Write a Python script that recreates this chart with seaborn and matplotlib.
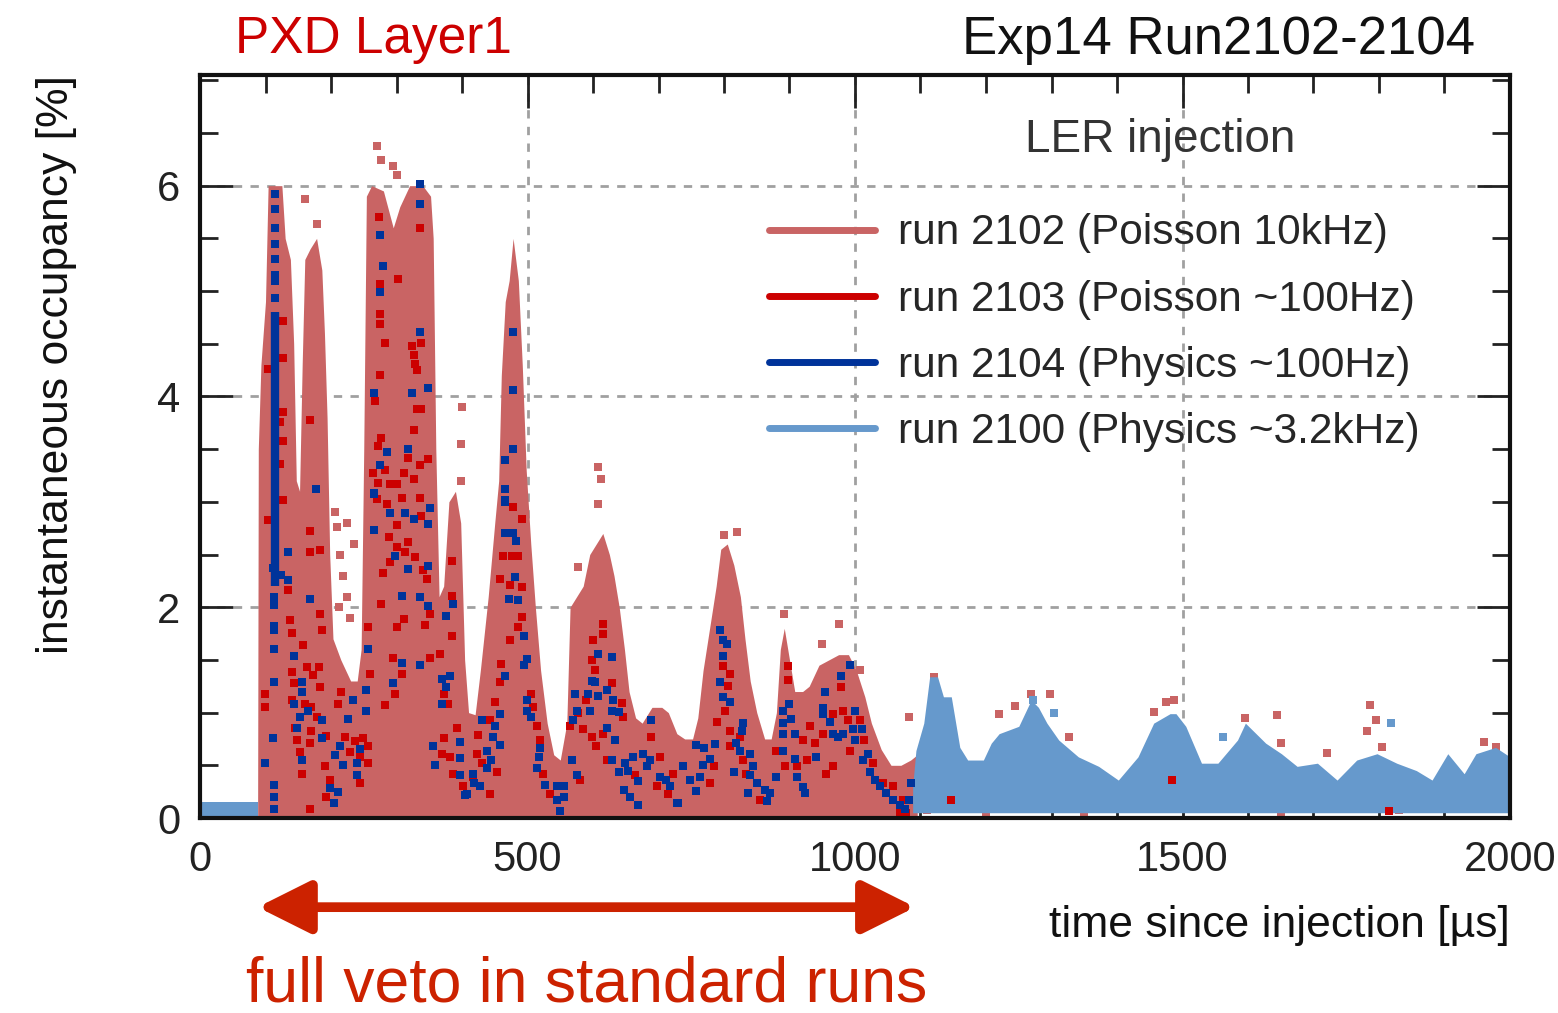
import numpy as np
import pandas as pd
import seaborn as sns
import matplotlib
matplotlib.use('Agg')
import matplotlib.pyplot as plt
from matplotlib.lines import Line2D
from matplotlib.ticker import MultipleLocator

# run 2102 (Poisson 10kHz): upper edge of the dense band
pink_x = [88, 89, 93, 100, 104, 112, 125, 130, 138, 143, 147, 152, 156, 160, 168, 178, 186, 190, 194, 198,
          203, 215, 230, 240, 246, 250, 254, 262, 280, 295, 305, 320, 340, 352, 356, 360, 365, 372, 380, 390,
          398, 404, 410, 420, 428, 440, 450, 456, 460, 466, 472, 478, 486, 492, 498, 505, 512, 520, 530, 540,
          550, 560, 565, 575, 585, 595, 605, 615, 625, 632, 640, 648, 655, 665, 675, 690, 705, 715, 728, 740,
          752, 760, 768, 778, 788, 795, 805, 815, 825, 832, 840, 850, 862, 872, 880, 886, 892, 900, 908, 915,
          920, 930, 945, 960, 975, 990, 1002, 1015, 1025, 1040, 1055, 1070, 1085, 1095]
pink_top = [0.15, 3.5, 4.3, 4.9, 6.0, 6.0, 6.0, 5.5, 5.3, 4.5, 3.2, 3.1, 4.3, 5.3, 5.4, 5.5, 5.2, 4.6, 3.8, 2.5,
            1.7, 1.5, 1.3, 1.3, 1.6, 3.5, 5.9, 6.0, 5.95, 5.6, 5.8, 6.0, 6.0, 5.9, 5.5, 3.5, 2.1, 2.2, 3.0, 3.1,
            2.8, 1.5, 1.0, 0.98, 1.4, 2.1, 2.8, 3.2, 4.2, 4.9, 5.1, 5.5, 5.1, 4.3, 3.3, 2.6, 2.0, 1.4, 0.9, 0.6,
            0.55, 0.9, 2.0, 2.1, 2.2, 2.5, 2.6, 2.7, 2.5, 2.3, 2.0, 1.6, 1.2, 0.95, 0.9, 1.05, 1.05, 1.0, 0.8, 0.75,
            0.75, 0.95, 1.4, 1.8, 2.2, 2.55, 2.6, 2.4, 2.1, 1.7, 1.3, 1.0, 0.75, 0.75, 1.0, 1.6, 1.8, 1.5, 1.2, 1.2,
            1.2, 1.25, 1.45, 1.5, 1.55, 1.55, 1.4, 1.15, 0.9, 0.65, 0.5, 0.5, 0.55, 0.6]
# run 2102 isolated points
pink_dx = [270, 276, 295, 300, 160, 178, 400, 398, 398, 608, 612, 608, 577, 800, 820, 891, 976, 949, 1083, 1008,
           209, 214, 219, 224, 229, 212, 235, 206, 225,
           1120, 1220, 1244, 1268, 1297, 1326, 1456, 1487, 1475, 1596, 1644, 1651, 1787, 1781, 1796, 1805,
           1960, 1978, 1721, 1110, 1200, 1350, 1500, 1650, 1830, 1950]
pink_dy = [6.38, 6.24, 6.19, 6.1, 5.87, 5.64, 3.9, 3.55, 3.2, 3.33, 3.22, 2.98, 2.38, 2.69, 2.71, 1.94, 1.84, 1.65, 0.96, 1.4,
           2.76, 2.5, 2.3, 2.1, 1.9, 2.0, 2.6, 2.9, 2.8,
           1.34, 0.99, 1.06, 1.18, 1.18, 0.77, 1.01, 1.12, 1.1, 0.95, 0.98, 0.71, 1.07, 0.83, 0.93, 0.67,
           0.72, 0.67, 0.62, 0.08, 0.06, 0.05, 0.1, 0.06, 0.08, 0.1]

# run 2103 (Poisson ~100Hz)
red_x = [273, 336, 303, 275, 275, 275, 127, 282, 323, 338, 326, 328, 331, 104, 127, 275, 267, 331, 338, 127,
         122, 168, 326, 127, 277, 272, 318, 348, 336, 264, 282, 311, 290, 300, 326, 272, 122,
         127, 104, 168, 168, 183, 135, 183, 137, 140, 186, 158, 163, 181, 140, 173, 143, 183, 99, 99, 216,
         211, 140, 160, 170, 178, 145, 170, 193, 168, 148, 153, 221, 249, 257, 191, 199, 155, 229, 237, 244,
         244, 257, 193, 168, 280, 277, 257, 300, 260, 295, 308, 351, 366, 298, 283, 344, 351, 311, 372, 379,
         392, 372, 369, 382, 387, 402, 384, 384, 384, 285, 308, 336, 288, 290, 300, 318, 313, 328, 341, 346,
         300, 338, 270,
         478, 491, 463, 476, 486, 458, 473, 491, 491, 486, 473, 460, 458, 450, 443, 425, 423, 430, 443, 453,
         506, 509, 514, 519, 524, 534, 402, 417, 616, 616, 600, 598, 603, 629, 590, 577, 565, 585, 598, 605,
         616, 644, 646, 621, 664, 689, 702, 697, 714, 722, 580,
         799, 809, 806, 801, 789, 809, 824, 809, 829, 834, 784, 778, 855, 898, 898, 880, 893, 911, 921, 931,
         926, 939, 951, 967, 982, 979, 990, 992, 1008, 967, 1013, 1028, 1043, 1058, 1068, 1078, 1073, 956,
         1147, 1484, 1815]
red_y = [5.7, 5.6, 5.11, 5.07, 4.78, 4.69, 4.72, 4.51, 4.48, 4.51, 4.39, 4.31, 4.25, 4.26, 4.36, 4.2, 3.96, 3.88, 3.88, 3.85,
         3.76, 3.78, 3.68, 3.58, 3.61, 3.53, 3.42, 3.41, 3.35, 3.27, 3.3, 3.27, 3.17, 3.17, 3.22, 3.18, 3.36,
         3.02, 2.83, 2.72, 2.52, 2.54, 2.16, 1.94, 1.88, 1.76, 1.78, 1.64, 1.43, 1.43, 1.39, 1.36, 1.28, 1.24, 1.18, 1.05, 1.2,
         1.08, 1.12, 1.08, 1.05, 0.96, 0.85, 0.83, 0.78, 0.71, 0.74, 0.63, 0.77, 0.76, 0.68, 0.49, 0.36, 0.42, 0.63, 0.73, 0.58,
         0.33, 0.52, 0.2, 0.09, 2.32, 2.03, 1.81, 1.81, 1.37, 1.52, 1.37, 1.52, 1.56, 1.18, 1.07, 1.83, 1.94, 1.89, 1.18, 1.08,
         0.85, 0.76, 0.61, 0.58, 0.42, 0.3, 1.73, 2.11, 2.44, 2.98, 3.04, 3.04, 2.67, 2.43, 2.57, 2.62, 2.52, 2.48, 2.35, 2.27,
         2.78, 2.87, 3.03,
         2.95, 2.84, 2.49, 2.49, 2.49, 2.27, 2.21, 2.19, 1.91, 1.81, 1.69, 1.46, 1.29, 1.1, 0.93, 0.79, 0.61, 0.52, 0.23, 0.44,
         1.18, 1.05, 0.87, 0.74, 0.42, 0.23, 0.3, 0.39, 1.84, 1.75, 1.69, 1.5, 1.4, 1.28, 1.12, 1.0, 0.87, 0.84, 0.77, 0.68,
         0.8, 1.09, 0.96, 0.55, 0.41, 0.77, 0.58, 0.3, 0.23, 0.42, 0.36,
         1.44, 1.37, 1.25, 1.02, 0.91, 0.83, 0.77, 0.68, 0.55, 0.42, 0.49, 0.33, 0.17, 1.44, 1.31, 0.64, 0.49, 0.49, 0.74, 0.87,
         0.55, 0.71, 0.8, 0.99, 1.02, 1.24, 0.93, 0.64, 0.93, 0.49, 0.74, 0.52, 0.33, 0.3, 0.06, 0.05, 0.17, 0.42,
         0.17, 0.36, 0.07]

# run 2104 (Physics ~100Hz); the dense column near 115 us is kept as a span
blue_col_x = [115]
blue_col_lo = [2.2]
blue_col_hi = [4.8]
blue_x = [115, 115, 115, 115, 115, 115, 115, 115,
          336, 336, 275, 279, 275, 336, 348, 266, 323, 318, 285, 275, 266, 177,
          113, 113, 113, 113, 113, 113, 113, 113, 113,
          135, 111, 123, 135, 168, 143, 155, 155, 143, 165, 153, 186, 148, 186, 112, 155, 99,
          226, 234, 214, 206, 219, 239, 244, 239, 199, 211, 204, 254, 254, 257, 295, 308, 336, 308, 336,
          318, 298, 265, 290, 313, 326, 348, 351, 265, 348, 348, 387, 376, 369, 382, 376, 369, 356, 359,
          397, 397, 397, 407,
          478, 478, 478, 466, 466, 466, 466, 466, 478, 483, 481, 481, 471, 486, 494, 499, 494, 466, 499, 499,
          506, 458, 430, 450, 448, 458, 438, 445, 438, 417, 419, 427, 404, 519, 517, 514, 527, 545, 555, 545,
          555, 550, 573, 575, 570, 568, 575, 595, 593, 598, 603, 608, 629, 608, 621, 631, 629, 639, 621, 634,
          629, 639, 649, 661, 654, 669, 647, 656, 669, 689, 677, 687, 682, 702, 712, 717, 730,
          738, 728, 748, 758, 763, 768, 778, 758, 770, 786, 794, 799, 804, 799, 794, 799, 809, 829, 827, 819,
          824, 839, 844, 816, 839, 850, 837, 862, 870, 865, 880, 890, 900, 903, 890, 890, 908, 890, 908, 911,
          921, 923, 941, 951, 951, 954, 962, 967, 974, 982, 979, 992, 1000, 997, 1010, 1000, 1012, 1020, 1023, 1030,
          1038, 1048, 1058, 1068, 1076, 1083, 1085]
blue_y = [5.92, 5.78, 5.6, 5.45, 5.3, 5.15, 5.1, 4.93,
          6.02, 5.83, 5.53, 5.24, 4.99, 4.61, 4.08, 4.03, 4.03, 3.5, 3.47, 3.35, 3.08, 3.12,
          2.1, 2.02, 1.82, 1.78, 1.6, 1.29, 0.31, 0.2, 0.09,
          2.52, 2.37, 2.31, 2.26, 2.08, 1.54, 1.29, 1.2, 1.08, 1.02, 0.96, 0.93, 0.85, 0.76, 0.76, 0.55, 0.52,
          0.94, 1.12, 0.68, 0.6, 0.5, 0.52, 0.65, 0.41, 0.28, 0.25, 0.14, 1.02, 1.21, 1.6, 1.28, 1.47, 1.45, 2.11, 2.1,
          2.36, 2.49, 2.73, 2.89, 2.89, 2.84, 2.79, 2.94, 3.07, 2.39, 2.01, 2.03, 1.92, 1.32, 1.35, 1.24, 1.08, 0.68, 0.5,
          0.72, 0.57, 0.41, 0.23,
          4.61, 4.06, 3.5, 3.4, 3.12, 3.02, 3.0, 2.7, 2.7, 2.63, 2.29, 2.29, 2.08, 2.07, 1.73, 1.51, 1.45, 1.35, 1.12, 1.02,
          0.96, 0.99, 0.93, 0.87, 0.77, 0.69, 0.64, 0.55, 0.47, 0.42, 0.33, 0.3, 0.22, 0.66, 0.58, 0.47, 0.31, 0.3, 0.3, 0.17,
          0.2, 0.07, 1.18, 1.02, 0.93, 0.55, 0.41, 1.02, 1.18, 1.3, 1.29, 1.56, 1.53, 1.16, 1.21, 1.12, 1.02, 1.01, 0.85, 0.74,
          0.55, 0.44, 0.52, 0.58, 0.45, 0.35, 0.27, 0.2, 0.12, 0.93, 0.61, 0.55, 0.49, 0.39, 0.36, 0.3, 0.14,
          0.49, 0.14, 0.36, 0.26, 0.39, 0.5, 0.56, 0.69, 0.66, 0.7, 1.78, 1.69, 1.65, 1.54, 1.29, 1.15, 1.1, 0.9, 0.83, 0.71,
          0.64, 0.61, 0.49, 0.44, 0.41, 0.33, 0.24, 0.27, 0.24, 0.16, 0.39, 1.02, 1.08, 0.94, 0.9, 0.8, 0.8, 0.64, 0.56, 0.39,
          0.29, 0.24, 0.58, 1.04, 0.99, 1.2, 0.91, 0.8, 0.77, 0.8, 1.35, 1.45, 1.02, 0.84, 0.84, 0.74, 0.55, 0.61, 0.44, 0.36,
          0.3, 0.24, 0.17, 0.12, 0.09, 0.17, 0.33]

# run 2100 (Physics ~3.2kHz): before the veto and after it
lb0_x = [0, 88]
lb0_top = [0.15, 0.15]
lb_x = [1088, 1093, 1105, 1114, 1126, 1135, 1147, 1160, 1172, 1196, 1208, 1220, 1250, 1269, 1280, 1293, 1311,
        1341, 1372, 1402, 1432, 1456, 1481, 1490, 1505, 1529, 1554, 1584, 1596, 1627, 1651, 1675, 1706, 1736,
        1766, 1797, 1827, 1857, 1881, 1905, 1930, 1948, 1978, 2000]
lb_top = [0.3, 0.64, 0.9, 1.34, 1.34, 1.15, 1.15, 0.67, 0.55, 0.55, 0.71, 0.8, 0.87, 1.12, 1.05, 0.9, 0.74,
          0.58, 0.49, 0.36, 0.58, 0.9, 0.99, 0.99, 0.87, 0.52, 0.52, 0.74, 0.9, 0.71, 0.61, 0.49, 0.52, 0.36,
          0.55, 0.61, 0.52, 0.45, 0.36, 0.61, 0.42, 0.61, 0.67, 0.58]
lb_dx = [1562, 1818, 1304, 1271]
lb_dy = [0.77, 0.9, 1.0, 1.12]

labels = ['run 2102 (Poisson 10kHz)', 'run 2103 (Poisson ~100Hz)',
          'run 2104 (Physics ~100Hz)', 'run 2100 (Physics ~3.2kHz)']
veto = [88, 1092]

c_pink = '#c96464'
c_red = '#cc0000'
c_blue = '#00339a'
c_lblue = '#6699cc'
c_arrow = '#cc2200'

#---------------------------------------------------------------------------------------------------------
sns.set_theme(style='ticks')
plt.rcParams['font.family'] = ['Liberation Sans', 'DejaVu Sans']

fig = plt.figure(figsize=(15.58, 10.13), dpi=100)
ax = fig.add_axes([200/1558, 1-818/1013, 1310/1558, 743/1013])

ax.fill_between(pink_x, 0, pink_top, color=c_pink, lw=0, zorder=2)
sns.scatterplot(x=pink_dx, y=pink_dy, marker='s', s=34, color=c_pink, linewidth=0, ax=ax, zorder=3)
ax.fill_between(lb0_x, 0, lb0_top, color=c_lblue, lw=0, zorder=4)
ax.fill_between(lb_x, 0.05, lb_top, color=c_lblue, lw=0, zorder=4)
sns.scatterplot(x=lb_dx, y=lb_dy, marker='s', s=34, color=c_lblue, linewidth=0, ax=ax, zorder=4)
sns.scatterplot(x=red_x, y=red_y, marker='s', s=34, color=c_red, linewidth=0, ax=ax, zorder=5)
ax.vlines(blue_col_x, blue_col_lo, blue_col_hi, color=c_blue, lw=6, zorder=6)
sns.scatterplot(x=blue_x, y=blue_y, marker='s', s=34, color=c_blue, linewidth=0, ax=ax, zorder=6)

ax.set_xlim(0, 2000)
ax.set_ylim(0, 7.05)
ax.set_xticks([0, 500, 1000, 1500, 2000])
ax.set_yticks([0, 2, 4, 6])
ax.xaxis.set_minor_locator(MultipleLocator(100))
ax.yaxis.set_minor_locator(MultipleLocator(0.5))
ax.tick_params(which='both', direction='in', top=True, right=True, width=2, colors='#222222')
ax.tick_params(which='major', length=24, labelsize=30, pad=14)
ax.tick_params(which='minor', length=13)
ax.tick_params(axis='x', which='major', pad=16)
ax.grid(True, which='major', ls=(0, (3, 3)), color='#a0a0a0', lw=2, zorder=1)
for sp in ax.spines.values():
    sp.set_linewidth(3)
    sp.set_color('#111111')
    sp.set_zorder(10)

ax.set_xlabel('time since injection [µs]', fontsize=32, loc='right', labelpad=18, color='#111111')
ax.set_ylabel('instantaneous occupancy [%]', fontsize=32, loc='top', labelpad=58, color='#111111')

handles = [Line2D([], [], color=c, lw=5, marker='s', markersize=3)
           for c in [c_pink, c_red, c_blue, c_lblue]]
leg = ax.legend(handles, labels, loc='upper left', bbox_to_anchor=(0.405, 0.865), frameon=False,
                fontsize=30.5, handlelength=2.5, handletextpad=0.55, labelspacing=0.62)
leg.set_zorder(12)
ax.text(0.733, 0.912, 'LER injection', transform=ax.transAxes, ha='center', va='center',
        fontsize=33, color='#333333', zorder=12)

# veto arrow below the axis
ax.annotate('', xy=(veto[0], -0.12), xytext=(veto[1], -0.12),
            xycoords=('data', 'axes fraction'), textcoords=('data', 'axes fraction'),
            arrowprops=dict(arrowstyle='<|-|>,head_length=1.6,head_width=0.8', mutation_scale=20,
                            lw=7, color=c_arrow, shrinkA=0, shrinkB=0), annotation_clip=False)
fig.text(587/1558, 1-985/1013, 'full veto in standard runs', ha='center', va='center',
         fontsize=45, color=c_arrow)

fig.text(235/1558, 1-40/1013, 'PXD Layer1', ha='left', va='center', fontsize=37, color='#cc0000')
fig.text(1475/1558, 1-40/1013, 'Exp14 Run2102-2104', ha='right', va='center', fontsize=38, color='#111111')

plt.savefig('out.png', dpi=100)
